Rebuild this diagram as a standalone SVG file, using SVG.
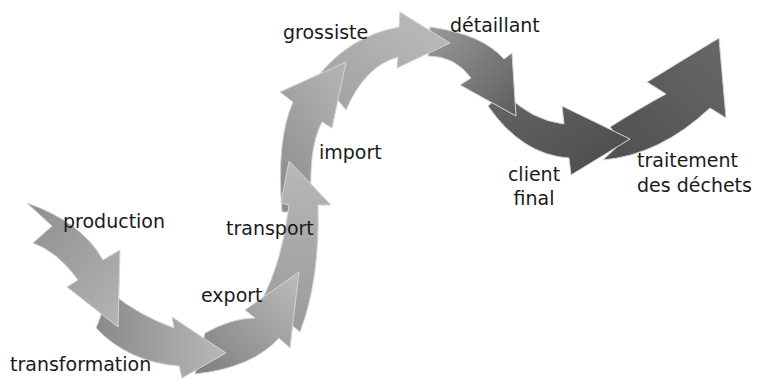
<svg xmlns="http://www.w3.org/2000/svg" width="763" height="380" viewBox="0 0 763 380">
<defs>
<linearGradient id="g1" x1="0" y1="0" x2="1" y2="1"><stop offset="0" stop-color="#8e8e8e"/><stop offset="1" stop-color="#b4b4b4"/></linearGradient>
<linearGradient id="g2" x1="0" y1="0" x2="1" y2="0"><stop offset="0" stop-color="#8a8a8a"/><stop offset="1" stop-color="#b8b8b8"/></linearGradient>
<linearGradient id="g3" x1="0" y1="1" x2="1" y2="0"><stop offset="0" stop-color="#7e7e7e"/><stop offset="1" stop-color="#bcbcbc"/></linearGradient>
<linearGradient id="g4" x1="0" y1="1" x2="0" y2="0"><stop offset="0" stop-color="#9a9a9a"/><stop offset="1" stop-color="#b8b8b8"/></linearGradient>
<linearGradient id="g5" x1="0" y1="1" x2="0.6" y2="0"><stop offset="0" stop-color="#8a8a8a"/><stop offset="1" stop-color="#b0b0b0"/></linearGradient>
<linearGradient id="g6" x1="0" y1="1" x2="1" y2="0"><stop offset="0" stop-color="#a0a0a0"/><stop offset="1" stop-color="#bdbdbd"/></linearGradient>
<linearGradient id="g7" x1="0" y1="0" x2="1" y2="1"><stop offset="0" stop-color="#9a9a9a"/><stop offset="1" stop-color="#5e5e5e"/></linearGradient>
<linearGradient id="g8" x1="0" y1="0" x2="1" y2="1"><stop offset="0" stop-color="#666666"/><stop offset="1" stop-color="#4a4a4a"/></linearGradient>
<linearGradient id="g9" x1="0" y1="1" x2="1" y2="0"><stop offset="0" stop-color="#4f4f4f"/><stop offset="1" stop-color="#686868"/></linearGradient>
</defs>
<style>
.arrow{stroke:#d4d4d4;stroke-width:1;stroke-linejoin:miter}
.lbl{font-family:"DejaVu Sans","Liberation Sans",sans-serif;font-size:19px;fill:#1a1a1a}
</style>
<g id="arrows">
<g id="arrow-traitement"><path class="arrow" fill="url(#g9)" d="M610,127 Q640,108 666,94 L647,82 L719,38 L726,118 L710,108 Q660,155 603,160 L622,142 Z"/></g>
<g id="arrow-client"><path class="arrow" fill="url(#g8)" d="M504,92 Q530,120 564,124 L562,106 L630,139 L571,175 L569,158 Q522,155 488,106 Z"/></g>
<g id="arrow-detaillant"><path class="arrow" fill="url(#g7)" d="M430,27 Q482,34 504,59 L512,53 L516,116 L460,85 L471,78 Q455,56 428,56 Z"/></g>
<g id="arrow-grossiste"><path class="arrow" fill="url(#g6)" d="M318,76 Q350,36 399,27 L400,12 L450,43 L397,68 L398,57 Q365,66 346,110 Z"/></g>
<g id="arrow-import"><path class="arrow" fill="url(#g5)" d="M282,212 Q276,140 293,102 L280,92 L346,62 L332,128 L322,122 Q307,150 312,212 Z"/></g>
<g id="arrow-transport"><path class="arrow" fill="url(#g4)" d="M262,300 Q282,262 289,205 L281,203 L289,161 L331,205 L318,205 Q320,280 300,332 Z"/></g>
<g id="arrow-export"><path class="arrow" fill="url(#g3)" d="M205,333 Q232,318 255,318 L245,310 L299,272 L290,348 L279,338 Q252,368 195,374 Z"/></g>
<g id="arrow-transformation"><path class="arrow" fill="url(#g2)" d="M110,292 Q140,316 174,328 L172,317 L226,353 L182,378 L179,366 Q128,362 96,328 Z"/></g>
<g id="arrow-production"><path class="arrow" fill="url(#g1)" d="M27,203 Q82,222 103,260 L120,250 L118,327 L67,287 L78,280 Q58,252 33,243 L52,226 Z"/></g>
</g>
<g id="labels">
<text class="lbl" x="63" y="228">production</text>
<text class="lbl" x="10" y="371">transformation</text>
<text class="lbl" x="201" y="302">export</text>
<text class="lbl" x="226" y="235">transport</text>
<text class="lbl" x="319" y="159">import</text>
<text class="lbl" x="283" y="39">grossiste</text>
<text class="lbl" x="450" y="32">détaillant</text>
<text class="lbl" x="534" y="181" text-anchor="middle">client</text>
<text class="lbl" x="534" y="205" text-anchor="middle">final</text>
<text class="lbl" x="637" y="167">traitement</text>
<text class="lbl" x="637" y="192">des déchets</text>
</g>
</svg>
